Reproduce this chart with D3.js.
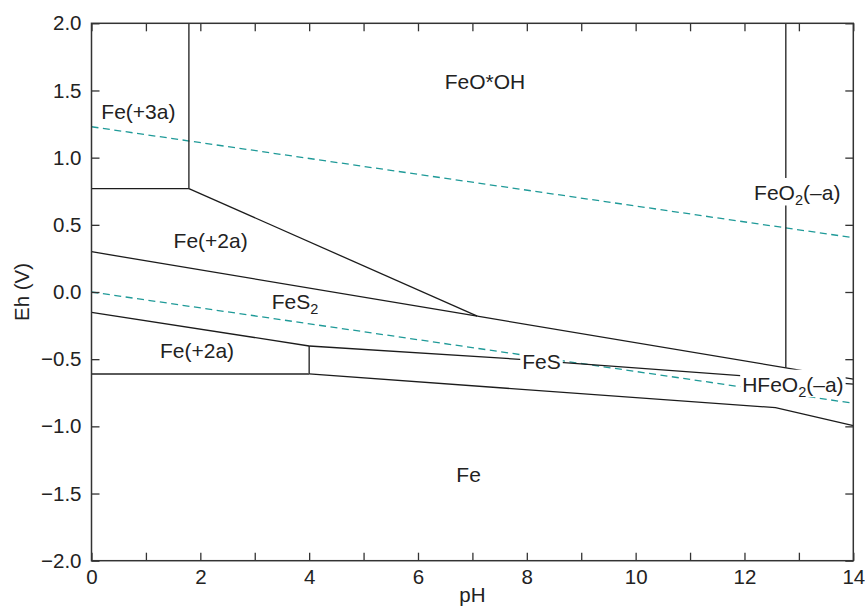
<!DOCTYPE html>
<html><head><meta charset="utf-8">
<script src="https://cdn.jsdelivr.net/npm/d3@7"></script>
<style>
body{margin:0;background:#fff}
text{font-family:"Liberation Sans",Arial,Helvetica,sans-serif;fill:#222}
</style>
</head><body>
<svg id="c" width="865" height="607"></svg>
<script>
// ---- data ----
const phMajor = [0, 2, 4, 6, 8, 10, 12, 14];
const phMinor = [0,1,2,3,4,5,6,7,8,9,10,11,12,13,14];
const ehTicks = [-2, -1.5, -1, -0.5, 0, 0.5, 1, 1.5, 2];

// stability field boundaries [pH, Eh]
const fe3_fe2      = [[0, 0.77], [1.79, 0.77]];
const fe3_feooh    = [[1.79, 2.0], [1.79, 0.77]];
const fe2_feooh    = [[1.79, 0.77], [7.09, -0.18]];
const fe2_fes2     = [[0, 0.30], [7.09, -0.18]];
const fes2_feooh   = [[7.09, -0.18], [14, -0.648]];
const feooh_feo2   = [[12.76, 2.0], [12.76, -0.563]];
const fes2_fe2low  = [[0, -0.151], [4, -0.402]];
const fe2low_fes   = [[4, -0.402], [4, -0.61]];
const fes2_fes     = [[4, -0.402], [7.87, -0.501], [14, -0.685]];
const fe2low_fe    = [[0, -0.61], [4, -0.61]];
const fes_fe       = [[4, -0.61], [12.57, -0.861], [14, -0.995]];
// water stability lines
const waterO2      = [[0, 1.23], [14, 0.404]];
const waterH2      = [[0, 0.0], [14, -0.828]];

// field labels: [main, subscript, tail, pH, Eh, background]
const labels = [
  ["FeO*OH", "", "", 7.23, 1.509, false],
  ["Fe(+3a)", "", "", 0.862, 1.291, false],
  ["FeO", "2", "(–a)", 12.97, 0.685, true],
  ["Fe(+2a)", "", "", 2.19, 0.325, false],
  ["FeS", "2", "", 3.74, -0.129, false],
  ["Fe(+2a)", "", "", 1.94, -0.493, false],
  ["FeS", "", "", 8.27, -0.573, true],
  ["HFeO", "2", "(–a)", 12.89, -0.742, true],
  ["Fe", "", "", 6.93, -1.412, false]
];

// ---- layout ----
const W = 865, H = 607;
const m = {l: 91.5, r: 11.7, t: 23.3, b: 46.3};
const svg = d3.select("#c");
const x = d3.scaleLinear().domain([0, 14]).range([m.l, W - m.r]);
const y = d3.scaleLinear().domain([-2, 2]).range([H - m.b, m.t]);
const line = d3.line().x(d => x(d[0])).y(d => y(d[1]));

const g = svg.append("g");

// water lines
[waterO2, waterH2].forEach(d => {
  g.append("path").attr("d", line(d)).attr("fill", "none")
    .attr("stroke", "#1f9a98").attr("stroke-width", 1.3)
    .attr("stroke-dasharray", "7,4.5");
});

// boundaries
[fe3_fe2, fe3_feooh, fe2_feooh, fe2_fes2, fes2_feooh, feooh_feo2,
 fes2_fe2low, fe2low_fes, fes2_fes, fes_fe].forEach(d => {
  g.append("path").attr("d", line(d)).attr("fill", "none")
    .attr("stroke", "#1c1c1c").attr("stroke-width", 1.3);
});
g.append("path").attr("d", line(fe2low_fe)).attr("fill", "none")
  .attr("stroke", "#5a5a5a").attr("stroke-width", 2);

// labels
labels.forEach(([main, sub, tail, ph, eh, bg]) => {
  const lg = g.append("g");
  const t = lg.append("text").attr("x", x(ph)).attr("y", y(eh))
    .attr("text-anchor", "middle").attr("font-size", 21);
  t.append("tspan").text(main);
  if (sub) t.append("tspan").attr("font-size", 14.5).attr("dy", 5).text(sub);
  if (tail) t.append("tspan").attr("dy", sub ? -5 : 0).text(tail);
  if (bg) {
    const b = t.node().getBBox();
    lg.insert("rect", "text")
      .attr("x", b.x - 2).attr("width", b.width + 4)
      .attr("y", y(eh) - 22).attr("height", 27.5)
      .attr("fill", "#fff");
  }
});

// axes (inward ticks on all four sides)
const fs = 20.5;
const ax = svg.append("g");
const axB = ax.append("g").attr("transform", `translate(0,${H - m.b})`)
  .call(d3.axisBottom(x).tickValues(phMinor).tickSize(-8).tickSizeOuter(0)
    .tickPadding(9).tickFormat(d => phMajor.includes(d) ? d : ""));
const axT = ax.append("g").attr("transform", `translate(0,${m.t})`)
  .call(d3.axisTop(x).tickValues(phMinor).tickSize(-8).tickSizeOuter(0).tickFormat(""));
const axL = ax.append("g").attr("transform", `translate(${m.l},0)`)
  .call(d3.axisLeft(y).tickValues(ehTicks).tickSize(-8).tickSizeOuter(0)
    .tickPadding(10).tickFormat(d3.format(".1f")));
const axR = ax.append("g").attr("transform", `translate(${W - m.r},0)`)
  .call(d3.axisRight(y).tickValues(ehTicks).tickSize(-8).tickSizeOuter(0).tickFormat(""));
[axB, axT, axL, axR].forEach(a => {
  a.select(".domain").remove();
  a.selectAll(".tick line").attr("stroke", "#333").attr("stroke-width", 1.3);
  a.selectAll("text").attr("font-size", fs).attr("fill", "#222")
    .attr("font-family", '"Liberation Sans",Arial,Helvetica,sans-serif');
});
ax.append("rect").attr("x", m.l).attr("y", m.t)
  .attr("width", W - m.r - m.l).attr("height", H - m.b - m.t)
  .attr("fill", "none").attr("stroke", "#333").attr("stroke-width", 1.5);

// axis titles
svg.append("text").attr("x", (m.l + W - m.r) / 2).attr("y", 602)
  .attr("text-anchor", "middle").attr("font-size", fs).text("pH");
svg.append("text").attr("transform", `translate(29,${(m.t + H - m.b) / 2}) rotate(-90)`)
  .attr("text-anchor", "middle").attr("font-size", fs).text("Eh (V)");
</script>
</body></html>
